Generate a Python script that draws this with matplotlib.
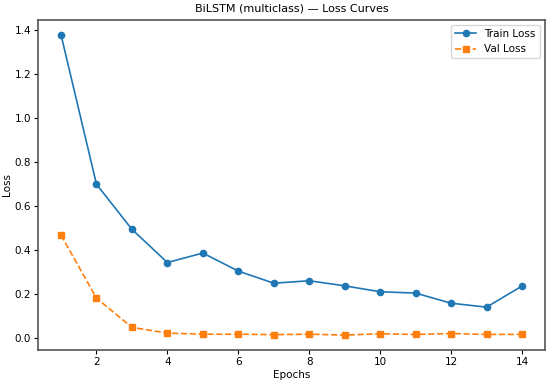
import numpy as np
import matplotlib
matplotlib.use('Agg')
import matplotlib.pyplot as plt

epochs = list(range(1, 15))
train_loss = [1.38, 0.70, 0.495, 0.344, 0.387, 0.305, 0.25, 0.261, 0.238, 0.211, 0.205, 0.159, 0.141, 0.237]
val_loss = [0.469, 0.182, 0.049, 0.023, 0.018, 0.018, 0.016, 0.018, 0.014, 0.02, 0.017, 0.021, 0.017, 0.017]

plt.rcParams['font.size'] = 7.5

fig, ax = plt.subplots(figsize=(5.5, 3.86), dpi=100)
fig.subplots_adjust(left=0.069, right=0.991, bottom=0.093, top=0.949)

ax.plot(epochs, train_loss, marker='o', markersize=4.5, linewidth=1.2, label='Train Loss')
ax.plot(epochs, val_loss, marker='s', markersize=4.5, linewidth=1.2, linestyle='--', label='Val Loss')

ax.set_title('BiLSTM (multiclass) — Loss Curves', fontsize=8)
ax.set_xlabel('Epochs', labelpad=2)
ax.set_ylabel('Loss', labelpad=2)
ax.set_xticks(np.arange(2, 15, 2))
ax.tick_params(length=3, pad=2)
for s in ax.spines.values():
    s.set_color('#555555')
    s.set_linewidth(1.2)
ax.legend(loc='upper right')

fig.savefig('out.png')
